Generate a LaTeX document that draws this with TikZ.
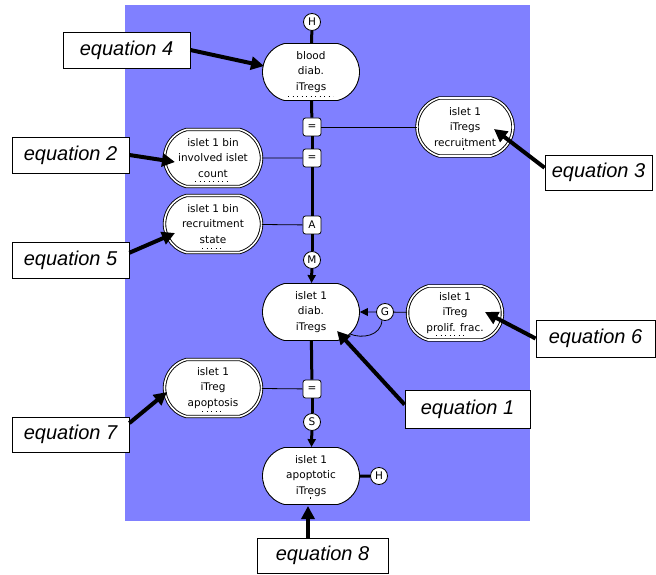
\documentclass[tikz,border=0pt]{standalone}
\usepackage{fontspec}
\setmainfont{DejaVu Sans}
\newfontfamily\eqfamily{Liberation Sans}
\usetikzlibrary{arrows.meta,calc,shapes.misc}
\definecolor{bgblue}{RGB}{128,128,255}
\newcommand\nodefnt{\fontsize{10.5}{15.5}\selectfont}
\newcommand\eqfnt{\eqfamily\itshape\fontsize{20}{22}\selectfont}
\begin{document}
\begin{tikzpicture}[x=1pt,y=-1pt,
  pool/.style={rounded rectangle, rounded rectangle arc length=150, draw=black, fill=white, line width=0.9pt,
    minimum width=97pt, minimum height=57pt, inner sep=0pt, align=center, font=\nodefnt},
  dpool/.style={pool, double=white, double distance=1.6pt, line width=0.9pt},
  circ/.style={circle, draw, fill=white, line width=0.8pt, minimum size=17pt,
    inner sep=0pt, font=\nodefnt},
  opbox/.style={rectangle, rounded corners=2.5pt, draw, fill=white, line width=0.8pt,
    minimum size=18pt, inner sep=0pt, font=\nodefnt},
  eqlabel/.style={rectangle, draw, fill=white, line width=0.8pt, minimum height=36pt,
    inner sep=0pt, font=\eqfnt},
  spine/.style={line width=3pt},
  thinlink/.style={line width=0.8pt},
  eqarrow/.style={line width=4pt, -{Triangle[length=13pt,width=13pt]}},
  dotmark/.style={line width=0.9pt, dash pattern=on 0.9pt off 3.6pt}
]
\useasboundingbox (0,0) rectangle (656,575);
\fill[white] (0,0) rectangle (656,575);
\fill[bgblue] (125,5) rectangle (530,521);

% main nodes
\node[circ] (Htop) at (312,22) {H};
\node[pool] (blood) at (311,72) {blood\\diab.\\iTregs};
\node[opbox] (eqA) at (312,127) {=};
\node[opbox] (eqB) at (312,158) {=};
\node[opbox] (opA) at (312,225) {A};
\node[circ] (M) at (312,260) {M};
\node[pool] (islet) at (311,312) {islet 1\\diab.\\iTregs};
\node[circ] (G) at (385,312) {G};
\node[opbox] (eqC) at (312,389) {=};
\node[circ] (S) at (312,422) {S};
\node[pool] (apopt) at (311,476) {islet 1\\apoptotic\\iTregs};
\node[circ] (Hbot) at (379,476) {H};

\node[dpool, minimum width=96pt, minimum height=58pt] (recruit) at (465,127) {islet 1\\iTregs\\recruitment};
\node[dpool] (involved) at (213,158) {islet 1 bin\\involved islet\\count};
\node[dpool] (recstate) at (213,224) {islet 1 bin\\recruitment\\state};
\node[dpool, minimum width=95pt, minimum height=54pt] (prolif) at (455,313) {islet 1\\iTreg\\prolif. frac.};
\node[dpool] (apopr) at (213,388) {islet 1\\iTreg\\apoptosis};

% dotted marks
\draw[dotmark] ($(blood)+(-23,24)$) -- ($(blood)+(22,24)$);
\draw[dotmark] ($(involved)+(-18,23)$) -- ($(involved)+(16,23)$);
\draw[dotmark] ($(recstate)+(-11,24)$) -- ($(recstate)+(11,24)$);
\draw[dotmark] ($(prolif)+(-19,22)$) -- ($(prolif)+(10,22)$);
\draw[dotmark] ($(apopr)+(-11,23)$) -- ($(apopr)+(10,23)$);
\draw[line width=0.9pt] ($(recruit)+(-2,21)$) -- ($(recruit)+(-2,23)$);
\draw[line width=0.9pt] ($(apopt)+(-1,21)$) -- ($(apopt)+(-1,23)$);

% spine
\draw[spine] (Htop) -- (blood);
\draw[spine] (blood) -- (eqA);
\draw[spine] (eqA) -- (eqB);
\draw[spine] (eqB) -- (opA);
\draw[spine] (opA) -- (M);
\draw[spine, -{Triangle[length=8pt,width=8pt]}] (M) -- (islet);
\draw[spine] (islet) -- (eqC);
\draw[spine] (eqC) -- (S);
\draw[spine, -{Triangle[length=8pt,width=8pt]}] (S) -- (apopt);
\draw[spine] (apopt) -- (Hbot);

% thin links
\draw[thinlink] (eqA) -- (recruit);
\draw[thinlink] (eqB) -- (involved);
\draw[thinlink] (opA) -- (recstate);
\draw[thinlink] (eqC) -- (apopr);
\draw[thinlink] (G) -- (prolif);
\draw[thinlink, -{Triangle[length=8pt,width=8pt]}] (G) -- (islet);
\coordinate (garc) at (350,334);
\draw[thinlink] (G.250) .. controls (381,336) and (362,339) .. (garc);

% equation labels
\node[eqlabel, minimum width=127pt] (e4) at (126.5,50) {equation 4};
\node[eqlabel, minimum width=117pt] (e2) at (70.5,155) {equation 2};
\node[eqlabel, minimum width=117pt] (e5) at (70.5,260) {equation 5};
\node[eqlabel, minimum width=107pt, minimum height=35pt] (e3) at (598.5,172.5) {equation 3};
\node[eqlabel, minimum width=119pt, minimum height=37pt] (e6) at (595.5,338.5) {equation 6};
\node[eqlabel, minimum width=125pt, minimum height=38pt] (e1) at (467.5,409) {equation 1};
\node[eqlabel, minimum width=117pt, minimum height=35pt] (e7) at (70.5,434.5) {equation 7};
\node[eqlabel, minimum width=131pt, minimum height=35pt] (e8) at (322.5,555.5) {equation 8};

\coordinate (t4) at (264,66);
\coordinate (t2) at (175,162);
\coordinate (t5) at (175,233);
\coordinate (t3) at (494,129);
\coordinate (t6) at (485,312);
\coordinate (t1) at (337,331);
\coordinate (t7) at (167,392);
\coordinate (t8) at (308,506);
\coordinate (s8) at (308,538);

\draw[eqarrow] (e4.east) -- (t4);
\draw[eqarrow] (e2.east) -- (t2);
\draw[eqarrow] (e5.7) -- (t5);
\draw[eqarrow] (e3.175) -- (t3);
\draw[eqarrow] (e6.west) -- (t6);
\draw[eqarrow] (e1.176) -- (t1);
\draw[eqarrow] (e7.11) -- (t7);
\draw[eqarrow] (s8) -- (t8);
\end{tikzpicture}
\end{document}
